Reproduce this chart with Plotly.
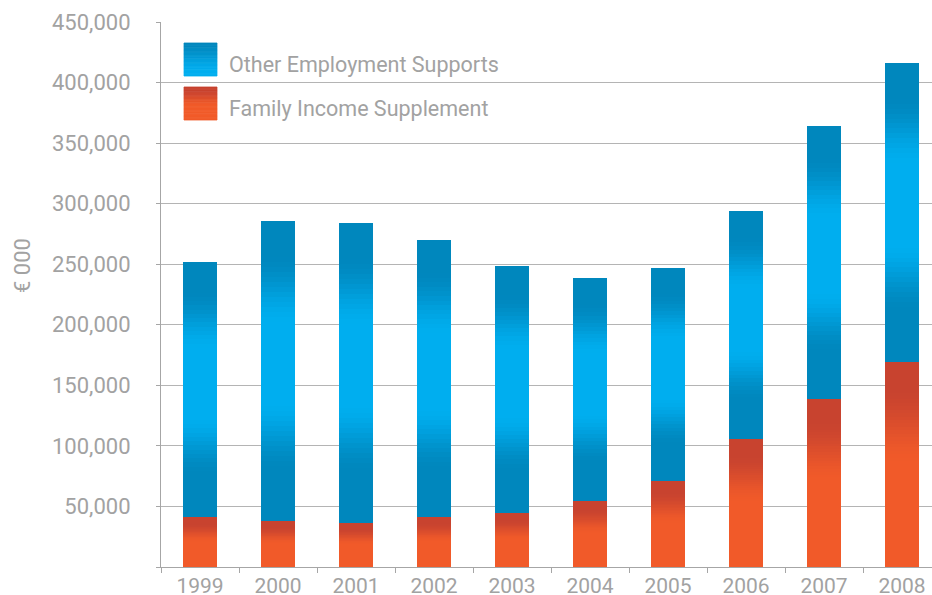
import plotly.graph_objects as go

years = ["1999", "2000", "2001", "2002", "2003", "2004", "2005", "2006", "2007", "2008"]
family_income_supplement = [41300, 38500, 36900, 41800, 45200, 55300, 71600, 106100, 139500, 169900]
total_supports = [251400, 285400, 283500, 269700, 248300, 238300, 246500, 293600, 363700, 415800]
other_employment_supports = [t - f for t, f in zip(total_supports, family_income_supplement)]
y_tick_values = [0, 50000, 100000, 150000, 200000, 250000, 300000, 350000, 400000, 450000]
y_tick_labels = ["", "50,000", "100,000", "150,000", "200,000", "250,000", "300,000", "350,000", "400,000", "450,000"]

FONT = "Roboto"
GREY = "#a2a2a2"
BLUE_DARK = (0, 135, 189)
BLUE_LIGHT = (0, 174, 239)
RED_DARK = (200, 67, 47)
ORANGE = (241, 90, 41)
N = 60

# Target screen positions (pixels in the window); plot area runs past the right edge
L, R, T, B = 161, 941, 22, 567
W, H = R - L, B - T
FIG_W, FIG_H = R, 595


def mix(a, b, w):
    return "rgb(%d,%d,%d)" % tuple(round(a[i] + (b[i] - a[i]) * w) for i in range(3))


def smooth(x):
    x = max(0.0, min(1.0, x))
    return x * x * (3 - 2 * x)


def blue_color(t):  # t: 0 bottom -> 1 top
    d = abs(t - 0.53)
    w = 1 - smooth((d - 0.13) / 0.23)
    return mix(BLUE_DARK, BLUE_LIGHT, w)


def orange_color(t):  # t: 0 bottom -> 1 top
    f = 1 - t  # fraction from top
    w = smooth((f - 0.12) / 0.38)
    return mix(RED_DARK, ORANGE, w)


fig = go.Figure()

for k in range(N):
    t = (k + 0.5) / N
    c = orange_color(t)
    fig.add_trace(go.Bar(
        x=years, y=[v / N for v in family_income_supplement],
        marker=dict(color=c, line=dict(color=c, width=1)),
        name="Family Income Supplement", showlegend=False,
        hoverinfo="skip" if k else "x+y+name",
    ))
for k in range(N):
    t = (k + 0.5) / N
    c = blue_color(t)
    fig.add_trace(go.Bar(
        x=years, y=[v / N for v in other_employment_supports],
        marker=dict(color=c, line=dict(color=c, width=1)),
        name="Other Employment Supports", showlegend=False,
        hoverinfo="skip" if k else "x+y+name",
    ))


def px(x):
    return (x - L) / W


def py(y):
    return (B - y) / H


shapes = []
M = 24
for top, c_dark, c_light in [(43, BLUE_DARK, BLUE_LIGHT), (87, RED_DARK, ORANGE)]:
    for i in range(M):
        y0 = top + 33 * i / M
        y1 = top + 33 * (i + 1) / M
        f = (i + 0.5) / M
        w = smooth((f - 0.1) / 0.5) if c_dark == RED_DARK else smooth(f * 1.1)
        c = mix(c_dark, c_light, w)
        shapes.append(dict(type="rect", xref="paper", yref="paper",
                           x0=px(184), x1=px(217), y0=py(y1), y1=py(y0),
                           fillcolor=c, line=dict(width=0.8, color=c), layer="above"))

annotations = [
    dict(text="Other Employment Supports", xref="paper", yref="paper", x=px(227), y=py(64),
         xanchor="left", yanchor="middle", showarrow=False,
         font=dict(family=FONT, size=21.5, color=GREY)),
    dict(text="Family Income Supplement", xref="paper", yref="paper", x=px(227), y=py(108),
         xanchor="left", yanchor="middle", showarrow=False,
         font=dict(family=FONT, size=21.5, color=GREY)),
    dict(text="€ 000", xref="paper", yref="paper", x=px(22), y=py(266),
         xanchor="center", yanchor="middle", showarrow=False, textangle=-90,
         font=dict(family=FONT, size=22, color=GREY)),
]

fig.update_layout(
    width=FIG_W, height=FIG_H,
    margin=dict(l=L, r=0, t=T, b=595 - B, pad=0),
    barmode="stack", bargap=0.577,
    plot_bgcolor="white", paper_bgcolor="white",
    showlegend=False,
    shapes=shapes, annotations=annotations,
    xaxis=dict(
        type="category", range=[-0.5, 9.5], automargin=False,
        showline=True, linecolor="#a6a6a6", linewidth=1.2,
        ticks="outside", ticklen=5, tickcolor="#a6a6a6", tickson="boundaries",
        showgrid=False,
        tickfont=dict(family=FONT, size=21, color=GREY),
    ),
    yaxis=dict(
        range=[0, 450000], tickvals=y_tick_values, ticktext=y_tick_labels,
        automargin=False,
        showline=True, linecolor="#a6a6a6", linewidth=1.2,
        ticks="outside", ticklen=4, tickcolor="#a6a6a6",
        showgrid=True, gridcolor="#b4b4b4", gridwidth=1.2,
        zeroline=False, ticklabelstandoff=21,
        tickfont=dict(family=FONT, size=22, color=GREY),
    ),
)

page_fix = ("document.documentElement.style.overflow='hidden';"
            "document.body.style.margin='0';"
            "document.body.style.overflow='hidden';")

fig.write_html("out.html", post_script=page_fix, config={"displayModeBar": False})
